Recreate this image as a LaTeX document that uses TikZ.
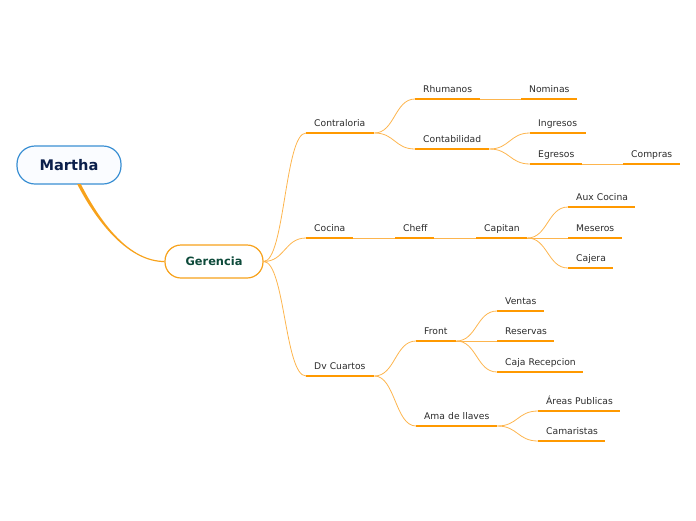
\documentclass[tikz,border=0pt]{standalone}
\usepackage{fontspec}
\setmainfont{DejaVu Sans}
\usetikzlibrary{calc}
\definecolor{ulorange}{HTML}{FF9900}
\definecolor{brorange}{HTML}{FDB54E}
\definecolor{mainorange}{HTML}{F7A21B}
\definecolor{rootblue}{HTML}{3A8FD3}
\definecolor{rootfill}{HTML}{FAFCFF}
\definecolor{rootText}{HTML}{0B1F4B}
\definecolor{mainText}{HTML}{0D4A3A}
\definecolor{topicText}{HTML}{2B2B2B}
\tikzset{
  rootnode/.style={draw=rootblue, line width=1.2pt, fill=rootfill, rounded corners=18pt,
    minimum width=104pt, minimum height=38pt, font=\fontsize{14.6}{16}\selectfont\bfseries, text=rootText},
  mainnode/.style={draw=mainorange, line width=1.2pt, fill=white, rounded corners=16pt,
    minimum width=98pt, minimum height=33pt, font=\fontsize{11.4}{13}\selectfont\bfseries, text=mainText},
  topic/.style={anchor=south west, inner xsep=8pt, inner ysep=4.5pt, text height=6.7pt, text depth=1.5pt,
    font=\fontsize{9.2}{10}\selectfont, text=topicText, align=left},
  uline/.style={draw=ulorange, line width=2.6pt},
  branch/.style={draw=brorange, line width=0.8pt}
}
\newcommand\tpc[5]{% name, x0, x1, y, text
  \node[topic, text width={#3-#2-16pt}] (#1) at (#2,#4) {\mbox{#5}};
  \draw[uline] (#1.south west) -- (#1.south east);}
\newcommand\conn[2]{%
  \draw[branch] let \p1=(#1.south east), \p2=(#2.south west) in
   (\p1) .. controls ({0.5*\x1+0.5*\x2},\y1) and ({0.5*\x1+0.5*\x2},\y2) .. (\p2);}
\newcommand\gconn[1]{%
  \draw[branch] let \p1=(G.east), \p2=(#1.south west) in
   (\p1) .. controls ({0.5*\x1+0.5*\x2},\y1) and ({0.5*\x1+0.5*\x2},\y2) .. (\p2);}
\begin{document}
\begin{tikzpicture}[x=1pt,y=-1pt]
\useasboundingbox (0,0) rectangle (696,520);
% root and main
\node[rootnode] (M) at (69,165) {Martha};
\node[mainnode] (G) at (214,261.5) {Gerencia};
\fill[mainorange] ($(M.south)+(8.2,-0.5)$) .. controls (98.2,225) and (130,262.1) .. ($(G.west)+(0,0.6)$)
  -- ($(G.west)+(0,-0.6)$) .. controls (130,260.9) and (101.8,225) .. ($(M.south)+(11.8,-0.5)$) -- cycle;
% level 1
\tpc{contra}{306}{374}{133}{Contraloria}
\tpc{cocina}{306}{353}{238}{Cocina}
\tpc{dv}{306}{374}{376}{Dv Cuartos}
% Contraloria branch
\tpc{rhum}{415}{480}{99}{Rhumanos}
\tpc{nom}{521}{577}{99}{Nominas}
\tpc{conta}{415}{489}{149}{Contabilidad}
\tpc{ing}{530}{586}{133}{Ingresos}
\tpc{egr}{530}{582}{164}{Egresos}
\tpc{comp}{623}{680}{164}{Compras}
% Cocina branch
\tpc{cheff}{395}{434}{238}{Cheff}
\tpc{capi}{476}{527}{238}{Capitan}
\tpc{aux}{568}{635}{207}{Aux Cocina}
\tpc{mes}{568}{622}{238}{Meseros}
\tpc{caj}{568}{613}{268}{Cajera}
% Dv Cuartos branch
\tpc{front}{416}{456}{341}{Front}
\tpc{vent}{497}{544}{311}{Ventas}
\tpc{res}{497}{554}{341}{Reservas}
\tpc{cajr}{497}{583}{372}{Caja Recepcion}
\tpc{ama}{416}{497}{426}{Ama de llaves}
\tpc{areas}{538}{620}{411}{Áreas Publicas}
\tpc{cam}{538}{605}{441}{Camaristas}
% connectors
\gconn{contra}
\gconn{cocina}
\gconn{dv}
\conn{contra}{rhum}
\conn{contra}{conta}
\conn{rhum}{nom}
\conn{conta}{ing}
\conn{conta}{egr}
\conn{egr}{comp}
\conn{cocina}{cheff}
\conn{cheff}{capi}
\conn{capi}{aux}
\conn{capi}{mes}
\conn{capi}{caj}
\conn{dv}{front}
\conn{dv}{ama}
\conn{front}{vent}
\conn{front}{res}
\conn{front}{cajr}
\conn{ama}{areas}
\conn{ama}{cam}
\end{tikzpicture}
\end{document}
